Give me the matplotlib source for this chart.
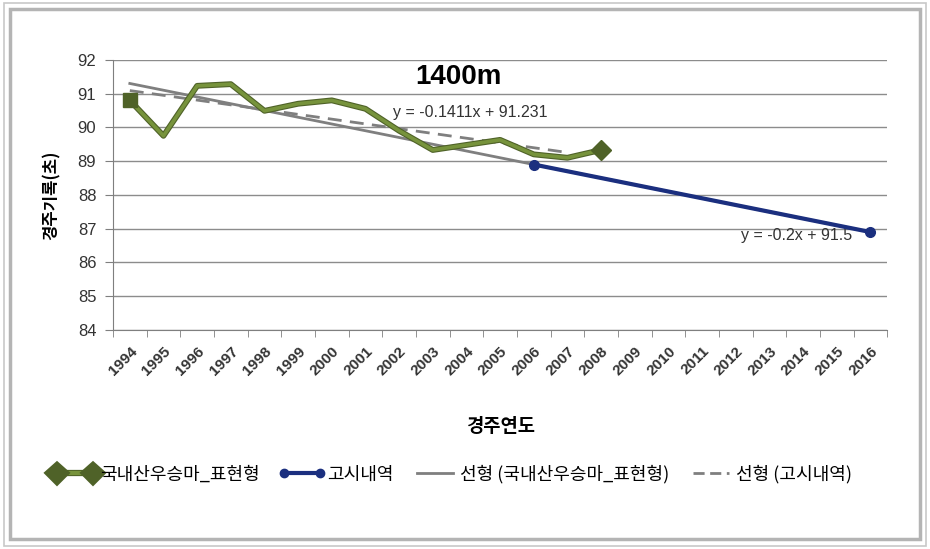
import matplotlib
matplotlib.use('Agg')
import matplotlib.pyplot as plt
import matplotlib.patheffects as pe
from matplotlib.patches import Rectangle
from matplotlib.lines import Line2D
import numpy as np

plt.rcParams['font.family'] = ['Noto Sans CJK KR', 'DejaVu Sans']

# categories (경주연도)
years = list(range(1994, 2017))

# 국내산우승마_표현형 (1994-2008)
green_years = list(range(1994, 2009))
green_vals = [90.80, 89.75, 91.23, 91.28, 90.49, 90.70, 90.80, 90.55,
              89.90, 89.33, 89.48, 89.63, 89.20, 89.10, 89.33]

# 고시내역
blue_years = [2006, 2016]
blue_vals = [88.9, 86.9]

# trend equations as shown on the chart (x = category index starting at 1)
green_trend = (-0.1411, 91.231)
green_trend_n = 14
blue_trend = (-0.2, 91.5)

green_dark = '#4F6228'
green_light = '#77933C'
navy = '#1B2F7F'
gray = '#7F7F7F'
latin = ['Liberation Sans', 'DejaVu Sans']

fig = plt.figure(figsize=(9.3, 5.49), dpi=100)

# picture frame
fig.patches.append(Rectangle((0.004, 0.006), 0.992, 0.988, transform=fig.transFigure,
                             fill=False, edgecolor='#C8C8C8', linewidth=1.2))
fig.patches.append(Rectangle((0.011, 0.018), 0.978, 0.966, transform=fig.transFigure,
                             fill=False, edgecolor='#B4B4B4', linewidth=2.5))

ax = fig.add_axes([0.1215, 0.399, 0.8325, 0.492])

idx = {y: i + 1 for i, y in enumerate(years)}
gx = np.array([idx[y] for y in green_years])
bx = np.array([idx[y] for y in blue_years])

# trend lines
tx = np.arange(1, len(years) + 1)
ax.plot(tx, blue_trend[0] * tx + blue_trend[1], color=gray, lw=2, zorder=3)
gtx = np.arange(1, green_trend_n + 1)
ax.plot(gtx, green_trend[0] * gtx + green_trend[1], color=gray, lw=2,
        dashes=(5, 3), zorder=4)

# green series
ax.plot(gx, green_vals, color=green_light, lw=2.6, zorder=5,
        path_effects=[pe.Stroke(linewidth=4.2, foreground=green_dark), pe.Normal()])
ax.plot(gx[:1], green_vals[:1], 's', color=green_dark, ms=10, zorder=6)
ax.plot(gx[-1:], green_vals[-1:], 'D', color=green_dark, ms=10, zorder=6)

# blue series
ax.plot(bx, blue_vals, color=navy, lw=3, marker='o', ms=7, zorder=6)

ax.text(11.1, 90.45, 'y = -0.1411x + 91.231', fontsize=11.5, color='#333333',
        ha='center', va='center', family=latin)
ax.text(20.8, 86.8, 'y = -0.2x + 91.5', fontsize=11.5, color='#333333',
        ha='center', va='center', family=latin)
ax.text(10.75, 91.5, '1400m', fontsize=20, fontweight='bold', ha='center',
        va='center', family=latin)

ax.set_xlim(0.5, len(years) + 0.5)
ax.set_ylim(84, 92)
ax.set_yticks(range(84, 93))
ax.set_xticks(tx)
ax.set_xticklabels([str(y) for y in years], rotation=45, ha='right',
                   rotation_mode='anchor', fontsize=11, fontweight='bold', color='#333333')
for lab in ax.get_xticklabels():
    lab.set_family(latin)
ax.set_xticks(np.arange(0.5, len(years) + 1), minor=True)
ax.tick_params(axis='x', which='major', length=0, pad=10)
ax.tick_params(axis='x', which='minor', length=5, color=gray)
ax.tick_params(axis='y', length=6, color=gray, labelsize=12, labelcolor='#333333', pad=6)
for lab in ax.get_yticklabels():
    lab.set_family(latin)

ax.grid(axis='y', color='#8C8C8C', lw=1)
ax.set_axisbelow(True)
for s in ['top', 'right']:
    ax.spines[s].set_visible(False)
ax.spines['left'].set_color(gray)
ax.spines['bottom'].set_color(gray)

ax.set_ylabel('경주기록(초)', fontsize=12, fontweight='bold', labelpad=12)
ax.set_xlabel('경주연도', fontsize=13.5, fontweight='bold', labelpad=28)

handles = [
    Line2D([], [], color=green_light, lw=3, marker='D', ms=9, mfc=green_dark, mec=green_dark,
           path_effects=[pe.Stroke(linewidth=4.5, foreground=green_dark), pe.Normal()]),
    Line2D([], [], color=navy, lw=3, marker='o', ms=6),
    Line2D([], [], color=gray, lw=2),
    Line2D([], [], color=gray, lw=2, dashes=(4, 2)),
]
labels = ['국내산우승마_표현형', '고시내역', '선형 (국내산우승마_표현형)', '선형 (고시내역)']
fig.legend(handles, labels, loc='center left', bbox_to_anchor=(0.038, 0.136), ncol=4,
           frameon=False, fontsize=13, handlelength=2.6, handletextpad=0.1,
           columnspacing=1.0, numpoints=2)

fig.savefig('out.png', dpi=100)
